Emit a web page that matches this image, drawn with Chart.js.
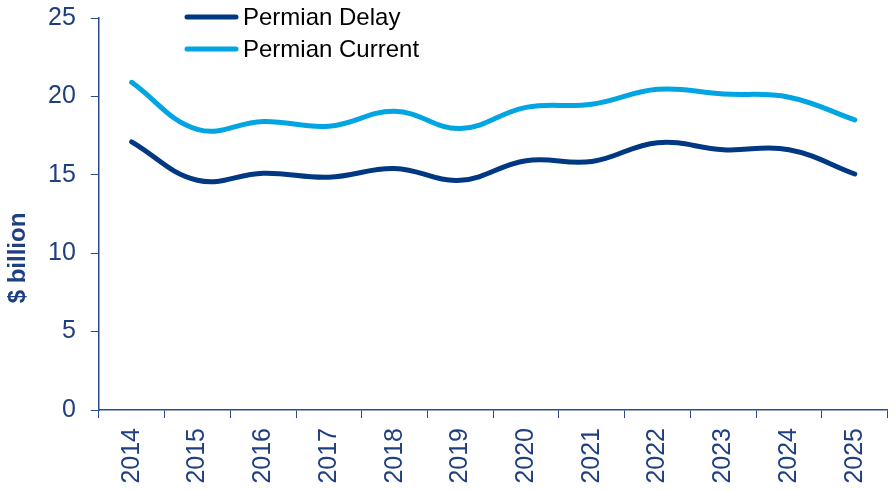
<!DOCTYPE html>
<html>
<head>
<meta charset="utf-8">
<script src="https://cdn.jsdelivr.net/npm/chart.js@4.4.1/dist/chart.umd.min.js"></script>
<style>
  html, body { margin: 0; padding: 0; background: #fff; }
  #chart { display: block; }
</style>
</head>
<body>
<canvas id="chart" width="895" height="491"></canvas>
<script>
// Données
const years = ['2014', '2015', '2016', '2017', '2018', '2019', '2020', '2021', '2022', '2023', '2024', '2025'];
const permianDelay = [17.1, 14.65, 15.1, 14.85, 15.4, 14.65, 15.9, 15.85, 17.05, 16.6, 16.6, 15.05];
const permianCurrent = [20.9, 17.9, 18.4, 18.1, 19.05, 17.95, 19.3, 19.5, 20.45, 20.15, 19.95, 18.5];
const yTicks = [0, 5, 10, 15, 20, 25];

const navy = '#1F3F80';
const axisColor = '#2B4C8C';
const font = 'Liberation Sans, Arial, sans-serif';

// Légende verticale en haut, dessinée à la main
const legendPlugin = {
    id: 'stackedLegend',
    afterDraw(chart) {
        const ctx = chart.ctx;
        ctx.save();
        chart.data.datasets.forEach((ds, i) => {
            const y = 17 + i * 32;
            ctx.strokeStyle = ds.borderColor;
            ctx.lineWidth = 5;
            ctx.lineCap = 'round';
            ctx.beginPath();
            ctx.moveTo(187, y);
            ctx.lineTo(236, y);
            ctx.stroke();
            ctx.fillStyle = '#000';
            ctx.font = '24px ' + font;
            ctx.textBaseline = 'middle';
            ctx.textAlign = 'left';
            ctx.fillText(ds.label, 243, y + 1);
        });
        ctx.restore();
    }
};

// Titre de l'axe Y (placé plus bas que le centre, comme dans l'original)
const yTitlePlugin = {
    id: 'yTitle',
    afterDraw(chart) {
        const ctx = chart.ctx;
        ctx.save();
        ctx.translate(18, 258);
        ctx.rotate(-Math.PI / 2);
        ctx.fillStyle = navy;
        ctx.font = 'bold 24px ' + font;
        ctx.textAlign = 'center';
        ctx.textBaseline = 'middle';
        ctx.fillText('$ billion', 0, 0);
        ctx.restore();
    }
};

new Chart(document.getElementById('chart'), {
    type: 'line',
    data: {
        labels: years,
        datasets: [{
            label: 'Permian Delay',
            data: permianDelay,
            borderColor: '#003882',
            borderWidth: 5,
            tension: 0.4,
            pointRadius: 0,
            borderCapStyle: 'round',
            fill: false
        }, {
            label: 'Permian Current',
            data: permianCurrent,
            borderColor: '#00A5E2',
            borderWidth: 5,
            tension: 0.4,
            pointRadius: 0,
            borderCapStyle: 'round',
            fill: false
        }]
    },
    options: {
        responsive: false,
        animation: false,
        devicePixelRatio: 1,
        layout: { padding: { left: 33, right: 6, top: 18, bottom: 0 } },
        plugins: {
            legend: { display: false },
            tooltip: { enabled: false }
        },
        scales: {
            x: {
                offset: true,
                afterFit: axis => { axis.height = 81; },
                grid: {
                    offset: true,
                    drawOnChartArea: false,
                    drawTicks: true,
                    tickLength: 8,
                    color: axisColor
                },
                border: { display: true, color: axisColor, width: 1.5 },
                ticks: {
                    color: navy,
                    font: { family: font, size: 25 },
                    minRotation: 90,
                    maxRotation: 90,
                    padding: 10,
                    autoSkip: false
                }
            },
            y: {
                min: yTicks[0],
                max: yTicks[yTicks.length - 1],
                afterBuildTicks: axis => {
                    axis.ticks = yTicks.map(v => ({ value: v }));
                },
                afterFit: axis => { axis.paddingTop = 0; },
                grid: {
                    drawOnChartArea: false,
                    drawTicks: true,
                    tickLength: 8,
                    color: axisColor
                },
                border: { display: true, color: axisColor, width: 1.5 },
                ticks: {
                    color: navy,
                    font: { family: font, size: 25 },
                    padding: 15
                }
            }
        }
    },
    plugins: [legendPlugin, yTitlePlugin]
});
</script>
</body>
</html>
